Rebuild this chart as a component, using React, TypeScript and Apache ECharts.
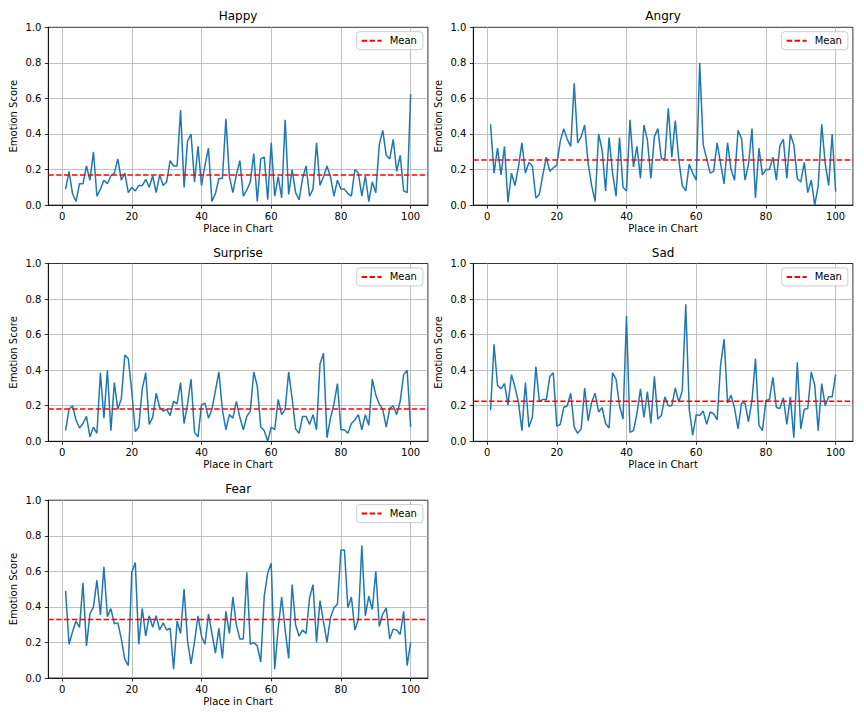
import React, { useEffect, useRef } from 'react';
import * as echarts from 'echarts';

const titles = ['Happy', 'Angry', 'Surprise', 'Sad', 'Fear'];

const xTickValues = [0, 20, 40, 60, 80, 100];

const happy = [
  0.09, 0.19, 0.065, 0.02, 0.12, 0.12, 0.22, 0.14, 0.30, 0.05,
  0.09, 0.14, 0.12, 0.165, 0.18, 0.26, 0.14, 0.18, 0.07, 0.10,
  0.08, 0.11, 0.11, 0.145, 0.10, 0.165, 0.07, 0.17, 0.11, 0.13,
  0.25, 0.22, 0.22, 0.535, 0.10, 0.36, 0.40, 0.13, 0.33, 0.11,
  0.225, 0.32, 0.02, 0.065, 0.15, 0.15, 0.485, 0.16, 0.07, 0.17,
  0.25, 0.05, 0.085, 0.13, 0.29, 0.02, 0.26, 0.27, 0.03, 0.35,
  0.05, 0.16, 0.04, 0.48, 0.06, 0.20, 0.07, 0.03, 0.15, 0.22,
  0.05, 0.09, 0.35, 0.11, 0.16, 0.22, 0.16, 0.05, 0.14, 0.09,
  0.09, 0.065, 0.05, 0.20, 0.18, 0.05, 0.165, 0.02, 0.13, 0.07,
  0.34, 0.42, 0.28, 0.26, 0.37, 0.19, 0.28, 0.08, 0.07, 0.625,
];

const angry = [
  0.455, 0.18, 0.32, 0.17, 0.33, 0.015, 0.18, 0.11, 0.215, 0.35,
  0.18, 0.24, 0.22, 0.04, 0.06, 0.17, 0.27, 0.19, 0.21, 0.225,
  0.36, 0.43, 0.37, 0.33, 0.685, 0.35, 0.385, 0.45, 0.235, 0.11,
  0.02, 0.40, 0.31, 0.08, 0.38, 0.18, 0.05, 0.38, 0.10, 0.08,
  0.48, 0.215, 0.33, 0.15, 0.45, 0.365, 0.15, 0.385, 0.43, 0.26,
  0.26, 0.545, 0.27, 0.475, 0.255, 0.11, 0.08, 0.23, 0.18, 0.14,
  0.80, 0.34, 0.26, 0.18, 0.19, 0.35, 0.235, 0.12, 0.35, 0.20,
  0.14, 0.42, 0.375, 0.14, 0.23, 0.43, 0.04, 0.32, 0.17, 0.20,
  0.20, 0.27, 0.14, 0.335, 0.37, 0.15, 0.40, 0.34, 0.15, 0.13,
  0.24, 0.07, 0.14, 0.00, 0.11, 0.455, 0.235, 0.11, 0.40, 0.075,
];

const surprise = [
  0.06, 0.18, 0.20, 0.12, 0.075, 0.10, 0.14, 0.025, 0.08, 0.045,
  0.385, 0.13, 0.40, 0.06, 0.33, 0.18, 0.24, 0.485, 0.465, 0.28,
  0.055, 0.08, 0.295, 0.385, 0.095, 0.135, 0.27, 0.19, 0.17, 0.18,
  0.145, 0.225, 0.21, 0.33, 0.10, 0.21, 0.35, 0.05, 0.025, 0.205,
  0.215, 0.13, 0.18, 0.285, 0.39, 0.175, 0.065, 0.15, 0.13, 0.225,
  0.135, 0.065, 0.14, 0.17, 0.39, 0.31, 0.08, 0.06, 0.00, 0.08,
  0.065, 0.235, 0.15, 0.18, 0.39, 0.24, 0.07, 0.045, 0.14, 0.14,
  0.095, 0.15, 0.065, 0.435, 0.495, 0.02, 0.13, 0.21, 0.325, 0.065,
  0.065, 0.045, 0.10, 0.12, 0.15, 0.065, 0.15, 0.09, 0.35, 0.26,
  0.21, 0.18, 0.08, 0.185, 0.20, 0.15, 0.225, 0.375, 0.40, 0.08,
];

const sad = [
  0.175, 0.545, 0.315, 0.295, 0.325, 0.205, 0.375, 0.305, 0.22, 0.06,
  0.33, 0.08, 0.135, 0.42, 0.225, 0.235, 0.235, 0.365, 0.385, 0.085,
  0.095, 0.19, 0.20, 0.27, 0.08, 0.045, 0.07, 0.30, 0.115, 0.22,
  0.27, 0.165, 0.19, 0.10, 0.075, 0.385, 0.35, 0.20, 0.125, 0.705,
  0.05, 0.06, 0.155, 0.295, 0.135, 0.28, 0.10, 0.365, 0.125, 0.145,
  0.25, 0.20, 0.20, 0.30, 0.22, 0.285, 0.77, 0.18, 0.035, 0.15,
  0.145, 0.17, 0.095, 0.165, 0.155, 0.12, 0.43, 0.575, 0.215, 0.26,
  0.185, 0.07, 0.215, 0.215, 0.11, 0.23, 0.465, 0.09, 0.06, 0.23,
  0.235, 0.36, 0.19, 0.185, 0.245, 0.095, 0.25, 0.02, 0.445, 0.07,
  0.18, 0.185, 0.39, 0.315, 0.06, 0.325, 0.20, 0.25, 0.25, 0.375,
];

const fear = [
  0.49, 0.19, 0.26, 0.32, 0.285, 0.535, 0.18, 0.36, 0.40, 0.55,
  0.355, 0.625, 0.345, 0.39, 0.305, 0.31, 0.22, 0.105, 0.07, 0.595,
  0.65, 0.19, 0.39, 0.235, 0.35, 0.285, 0.35, 0.27, 0.31, 0.27,
  0.28, 0.05, 0.32, 0.25, 0.50, 0.21, 0.08, 0.205, 0.35, 0.235,
  0.19, 0.36, 0.25, 0.14, 0.28, 0.11, 0.375, 0.25, 0.455, 0.30,
  0.22, 0.22, 0.595, 0.19, 0.20, 0.18, 0.09, 0.46, 0.59, 0.645,
  0.05, 0.28, 0.455, 0.27, 0.11, 0.525, 0.30, 0.235, 0.27, 0.25,
  0.45, 0.525, 0.20, 0.435, 0.315, 0.20, 0.34, 0.395, 0.415, 0.72,
  0.72, 0.395, 0.455, 0.27, 0.33, 0.745, 0.35, 0.46, 0.385, 0.60,
  0.29, 0.36, 0.395, 0.22, 0.275, 0.27, 0.245, 0.375, 0.07, 0.20,
];

const seriesValues = [happy, angry, surprise, sad, fear];

// layout (pixels)
const W = 379.6;
const H = 177.8;
const colLeft = [48.3, 473.3];
const rowTop = [27.3, 263.5, 500.2];
const X_MIN = -3.95;
const X_MAX = 104.95;
const FONT = 'DejaVu Sans';

export default function App() {
  const ref = useRef<HTMLDivElement>(null);

  useEffect(() => {
    document.body.style.margin = '0';
    const chart = echarts.init(ref.current!, null, { renderer: 'svg' });

    const panels = titles.map((t, i) => ({
      title: t,
      values: seriesValues[i],
      left: colLeft[i % 2],
      top: rowTop[Math.floor(i / 2)],
    }));

    const grid = panels.map((p) => ({
      left: p.left,
      top: p.top,
      width: W,
      height: H,
      show: true,
      borderColor: '#000',
      borderWidth: 0.8,
      backgroundColor: 'transparent',
    }));

    const xAxis = panels.map((p, i) => ({
      type: 'value',
      gridIndex: i,
      min: X_MIN,
      max: X_MAX,
      name: 'Place in Chart',
      nameLocation: 'middle',
      nameGap: 18,
      nameTextStyle: { fontSize: 10, color: '#000', fontFamily: FONT },
      axisLine: { show: true, onZero: false, lineStyle: { color: '#000', width: 0.8 } },
      axisTick: { show: true, customValues: xTickValues, length: 3.5, lineStyle: { color: '#000', width: 0.8 } },
      axisLabel: { customValues: xTickValues, fontSize: 10, color: '#000', margin: 6, fontFamily: FONT },
      splitLine: { show: true, lineStyle: { color: '#b0b0b0', width: 0.8 } },
    }));

    const yAxis = panels.map((p, i) => ({
      type: 'value',
      gridIndex: i,
      min: 0,
      max: 1,
      interval: 0.2,
      name: 'Emotion Score',
      nameLocation: 'middle',
      nameGap: 30,
      nameRotate: 90,
      nameTextStyle: { fontSize: 10, color: '#000', fontFamily: FONT },
      axisLine: { show: true, onZero: false, lineStyle: { color: '#000', width: 0.8 } },
      axisTick: { show: true, length: 3.5, lineStyle: { color: '#000', width: 0.8 } },
      axisLabel: {
        fontSize: 10,
        color: '#000',
        margin: 7,
        fontFamily: FONT,
        formatter: (v: number) => v.toFixed(1),
      },
      splitLine: {
        show: true,
        showMinLine: false,
        showMaxLine: false,
        lineStyle: { color: '#b0b0b0', width: 0.8 },
      },
    }));

    const title = panels.map((p) => ({
      text: p.title,
      left: p.left + W / 2,
      top: p.top - 17,
      textAlign: 'center',
      padding: 0,
      textStyle: { fontSize: 12, fontWeight: 'normal', color: '#000', fontFamily: FONT },
    }));

    const legend = panels.map((p) => ({
      data: ['Mean'],
      right: 864 - (p.left + W) + 5,
      top: p.top + 4.4,
      itemWidth: 20,
      itemHeight: 10,
      padding: [4, 6, 4, 4],
      backgroundColor: 'rgba(255,255,255,0.8)',
      borderColor: '#cccccc',
      borderWidth: 1,
      borderRadius: 3,
      selectedMode: false,
      itemStyle: { opacity: 0, borderWidth: 0 },
      textStyle: { fontSize: 10, color: '#000', fontFamily: FONT, padding: [0, 0, 0, 3] },
    }));

    const series: any[] = [];
    panels.forEach((p, i) => {
      const mean = p.values.reduce((a, b) => a + b, 0) / p.values.length;
      series.push({
        type: 'line',
        name: p.title,
        xAxisIndex: i,
        yAxisIndex: i,
        data: p.values.map((v, j) => [j + 1, v]),
        symbol: 'none',
        lineStyle: { color: '#1f77b4', width: 1.5 },
        itemStyle: { color: '#1f77b4' },
        z: 2,
      });
      series.push({
        type: 'line',
        name: 'Mean',
        xAxisIndex: i,
        yAxisIndex: i,
        data: [
          [X_MIN, mean],
          [X_MAX, mean],
        ],
        symbol: 'none',
        lineStyle: { color: '#ff0000', width: 1.5, type: [5.5, 2.4] },
        itemStyle: { color: '#ff0000' },
        z: 3,
      });
    });

    chart.setOption({
      animation: false,
      backgroundColor: '#fff',
      textStyle: { fontFamily: FONT },
      title,
      legend,
      grid,
      xAxis,
      yAxis,
      series,
    });

    return () => chart.dispose();
  }, []);

  return <div ref={ref} style={{ width: 864, height: 720 }} />;
}
